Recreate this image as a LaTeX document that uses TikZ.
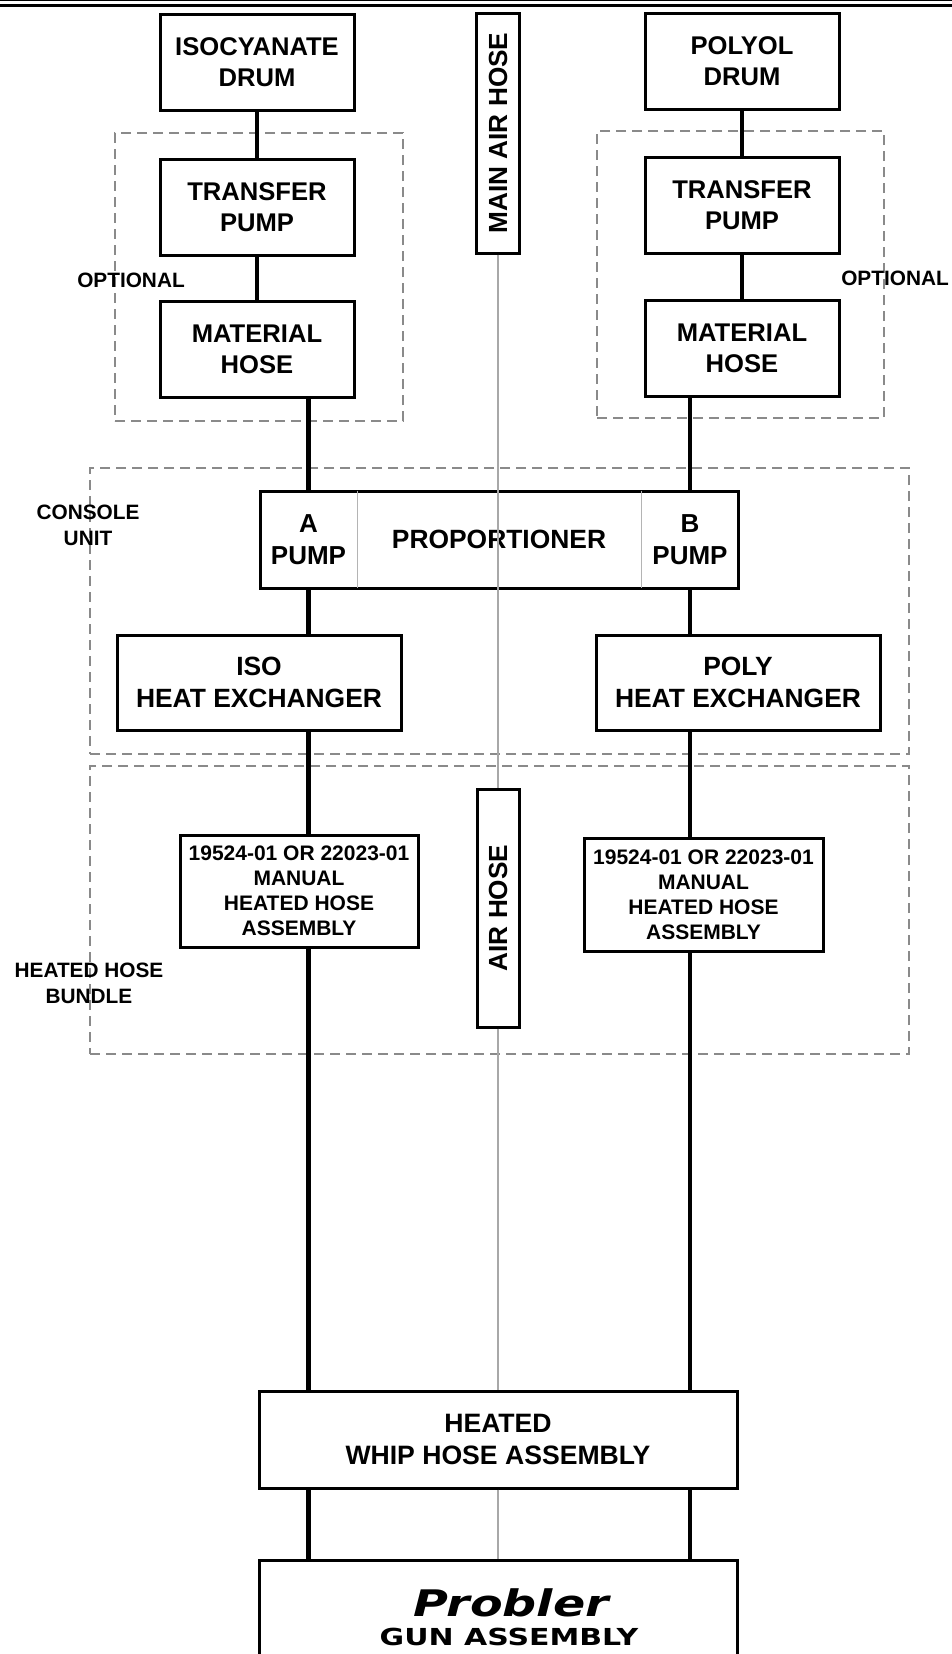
\documentclass[tikz,border=0pt]{standalone}
\usepackage{fontspec}
\usepackage{graphicx}
\setmainfont{Liberation Sans}
\newfontfamily\logofont{DejaVu Sans}
\usetikzlibrary{positioning}
\definecolor{zonegray}{HTML}{8A8A8A}
\definecolor{airgray}{HTML}{A8A8A8}
\definecolor{splitgray}{HTML}{B4B4B4}
\tikzset{
  unit/.style={
    draw,
    line width=1.5pt,
    align=center,
    inner sep=0pt,
    font=\bfseries\fontsize{12.8}{15.4}\selectfont
  },
  hoseunit/.style={
    unit,
    font=\bfseries\fontsize{10.5}{12.5}\selectfont
  },
  cell/.style={
    align=center,
    inner sep=0pt,
    font=\bfseries\fontsize{13}{15.8}\selectfont
  },
  zone/.style={
    draw=zonegray,
    line width=0.6pt,
    dash pattern=on 5pt off 3pt,
    inner sep=0pt
  },
  tag/.style={
    align=center,
    inner sep=0pt,
    font=\bfseries\fontsize{10.4}{13}\selectfont
  },
  pipe/.style={
    line width=2.2pt
  },
  airline/.style={
    draw=airgray,
    line width=0.8pt
  },
  split/.style={
    draw=splitgray,
    line width=0.8pt
  }
}

\begin{document}
\begin{tikzpicture}[x=0.5pt,y=-0.5pt]
    \useasboundingbox (0,0) rectangle (952,1654);
    \clip (0,0) rectangle (952,1654);
    % page rule
    \draw[line width=0.6pt] (0,0.6) -- (952,0.6);
    \draw[line width=1.8pt] (0,5.6) -- (952,5.6);
    % dashed zones
    \node[zone, minimum width=144pt, minimum height=144pt] (optl) at (259,277) {};
    \node[zone, minimum width=143.5pt, minimum height=143.5pt] (optr) at (740.5,274.5) {};
    \node[zone, minimum width=409.5pt, minimum height=143pt] (console) at (499.5,611) {};
    \node[zone, minimum width=409.5pt, minimum height=144pt] (bundle) at (499.5,910) {};
    \node[tag] (optltag) at (131,280) {OPTIONAL};
    \node[tag] (optrtag) at (895,278) {OPTIONAL};
    \node[tag] (consoletag) at (88,525) {CONSOLE\\UNIT};
    \node[tag] (bundletag) at (89,983) {HEATED HOSE\\BUNDLE};
    % supply side
    \node[unit, minimum width=97pt, minimum height=48pt] (isodrum) at (257,62) {ISOCYANATE\\DRUM};
    \node[unit, minimum width=97pt, minimum height=48pt] (isoxfer) at (257,207) {TRANSFER\\PUMP};
    \node[unit, minimum width=97pt, minimum height=48pt] (isomat) at (257,349.5) {MATERIAL\\HOSE};
    \node[unit, minimum width=97pt, minimum height=48pt] (poldrum) at (742,61) {POLYOL\\DRUM};
    \node[unit, minimum width=97pt, minimum height=48pt] (polxfer) at (742,205) {TRANSFER\\PUMP};
    \node[unit, minimum width=97pt, minimum height=48pt] (polmat) at (742,348) {MATERIAL\\HOSE};
    \node[unit, minimum width=21.5pt, minimum height=120pt, font=\bfseries\fontsize{13.1}{15}\selectfont] (mainair) at (498,133) {\rotatebox{90}{MAIN AIR HOSE}};
    % console unit
    \node[unit, minimum width=239pt, minimum height=48.5pt, font=\bfseries\fontsize{13.2}{15.8}\selectfont] (prop) at (499,539.5) {PROPORTIONER};
    \node[cell, minimum width=48.5pt, minimum height=48.5pt] (apump) at (308.5,539.5) {A\\PUMP};
    \node[cell, minimum width=48pt, minimum height=48.5pt] (bpump) at (690,539.5) {B\\PUMP};
    \draw[split] (apump.north east) -- (apump.south east);
    \draw[split] (bpump.north west) -- (bpump.south west);
    \node[unit, minimum width=142pt, minimum height=47.5pt, font=\bfseries\fontsize{13.2}{16}\selectfont] (isohx) at (259,682.5) {ISO\\HEAT EXCHANGER};
    \node[unit, minimum width=142pt, minimum height=47.5pt, font=\bfseries\fontsize{13.2}{16}\selectfont] (polhx) at (738,682.5) {POLY\\HEAT EXCHANGER};
    % heated hose bundle
    \node[hoseunit, minimum width=119pt, minimum height=56pt] (isohose) at (299,891) {19524-01 OR 22023-01\\MANUAL\\HEATED HOSE\\ASSEMBLY};
    \node[hoseunit, minimum width=119.5pt, minimum height=56.5pt] (polhose) at (703.5,894.5) {19524-01 OR 22023-01\\MANUAL\\HEATED HOSE\\ASSEMBLY};
    \node[unit, minimum width=21pt, minimum height=119pt, font=\bfseries\fontsize{13.1}{15}\selectfont] (airhose) at (498,908) {\rotatebox{90}{AIR HOSE}};
    % gun end
    \node[unit, minimum width=239pt, minimum height=48.5pt, font=\bfseries\fontsize{13.3}{15.8}\selectfont] (whip) at (498,1439.5) {HEATED\\WHIP HOSE ASSEMBLY};
    \node[unit, minimum width=239pt, minimum height=57pt] (gun) at (498,1617) {\hspace*{13pt}\scalebox{1.3}[1]{\logofont\bfseries\itshape\fontsize{18.3}{18.3}\selectfont Probler}\\[-1pt]\hspace*{11pt}\scalebox{1.28}[1]{\logofont\bfseries\fontsize{11.7}{14}\selectfont GUN ASSEMBLY}};
    % air lines
    \draw[airline] (mainair.south) -- (airhose.north);
    \draw[airline] (airhose.south) -- (whip.north);
    \draw[airline] (whip.south) -- (gun.north);
    % material lines
    \draw[pipe] (isodrum) -- (isoxfer);
    \draw[pipe] (isoxfer) -- (isomat);
    \draw[pipe] (poldrum) -- (polxfer);
    \draw[pipe] (polxfer) -- (polmat);
    \foreach \a/\b in {isomat/prop,prop/isohx,isohx/isohose,isohose/whip,whip/gun}
      \draw[pipe] (apump |- \a.south) -- (apump |- \b.north);
    \foreach \a/\b in {polmat/prop,prop/polhx,polhx/polhose,polhose/whip,whip/gun}
      \draw[pipe] (bpump |- \a.south) -- (bpump |- \b.north);
\end{tikzpicture}
\end{document}
